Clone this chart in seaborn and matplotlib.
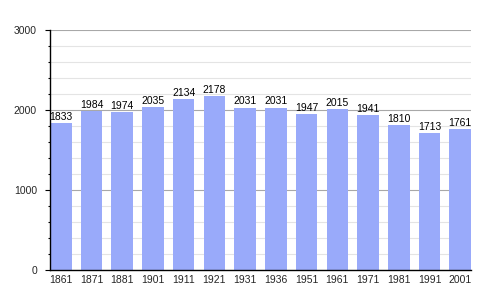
import matplotlib
matplotlib.use("Agg")
import matplotlib.pyplot as plt
import seaborn as sns
import pandas as pd
from matplotlib.ticker import MultipleLocator

years = ["1861", "1871", "1881", "1901", "1911", "1921", "1931", "1936",
         "1951", "1961", "1971", "1981", "1991", "2001"]
population = [1833, 1984, 1974, 2035, 2134, 2178, 2031, 2031,
              1947, 2015, 1941, 1810, 1713, 1761]

sns.set_theme(style="white")
plt.rcParams['font.family'] = ['Liberation Sans', 'DejaVu Sans']

df = pd.DataFrame({"year": years, "pop": population})

fig = plt.figure(figsize=(5, 3), dpi=100)
ax = fig.add_axes([0.1, 0.1, 0.842, 0.8])

sns.barplot(data=df, x="year", y="pop", color="#99aafa", saturation=1,
            width=0.7, linewidth=0, edgecolor="none", ax=ax, zorder=2)

ax.set_xlim(-0.35, len(years) - 0.65)
ax.set_ylim(0, 3000)
ax.yaxis.set_major_locator(MultipleLocator(1000))
ax.yaxis.set_minor_locator(MultipleLocator(200))
ax.grid(which="minor", axis="y", color="#e4e4e4", linewidth=0.8, zorder=0)
ax.grid(which="major", axis="y", color="#a8a8a8", linewidth=0.8, zorder=1)
ax.set_axisbelow(True)

for s in ["top", "right"]:
    ax.spines[s].set_visible(False)
for s in ["left", "bottom"]:
    ax.spines[s].set_visible(True)
    ax.spines[s].set_color("black")
    ax.spines[s].set_linewidth(1.0)

ax.tick_params(axis="y", which="major", left=True, length=3.6, width=0.8,
               color="black", labelsize=7.5, pad=5.8)
ax.tick_params(axis="y", which="minor", left=True, length=1.8, width=0.8, color="black")
ax.tick_params(axis="x", bottom=False, length=0, labelsize=7.5, pad=3.5)

for i, v in enumerate(population):
    ax.text(i, v + 15, str(v), ha="center", va="bottom", fontsize=7.5, color="black", zorder=3)

ax.set_xlabel("")
ax.set_ylabel("")
fig.savefig("out.png", dpi=100)
